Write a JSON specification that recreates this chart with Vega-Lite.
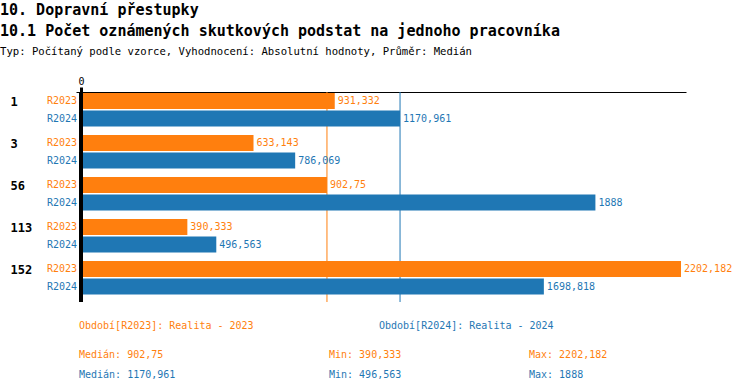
{
  "$schema": "https://vega.github.io/schema/vega-lite/v6.json",
  "padding": {"left": 0, "top": 3, "right": 5, "bottom": 5},
  "title": {
    "text": ["10. Dopravní přestupky", "10.1 Počet oznámených skutkových podstat na jednoho pracovníka"],
    "subtitle": "Typ: Počítaný podle vzorce, Vyhodnocení: Absolutní hodnoty, Průměr: Medián",
    "anchor": "start",
    "dx": -10,
    "fontSize": 15,
    "fontWeight": "bold",
    "lineHeight": 21,
    "subtitleFontSize": 10.6,
    "subtitlePadding": 8,
    "offset": 18,
    "color": "black",
    "subtitleColor": "black"
  },
  "datasets": {
    "bars": [
      {"group": "1", "series": "R2023", "value": 931.332},
      {"group": "1", "series": "R2024", "value": 1170.961},
      {"group": "3", "series": "R2023", "value": 633.143},
      {"group": "3", "series": "R2024", "value": 786.069},
      {"group": "56", "series": "R2023", "value": 902.75},
      {"group": "56", "series": "R2024", "value": 1888},
      {"group": "113", "series": "R2023", "value": 390.333},
      {"group": "113", "series": "R2024", "value": 496.563},
      {"group": "152", "series": "R2023", "value": 2202.182},
      {"group": "152", "series": "R2024", "value": 1698.818}
    ],
    "footer": [
      {"col": "c1", "block": "legend", "line": "1", "series": "R2023", "label": "Období[R2023]: Realita - 2023"},
      {"col": "c3", "block": "legend", "line": "1", "series": "R2024", "label": "Období[R2024]: Realita - 2024"},
      {"col": "c1", "block": "stats", "line": "1", "series": "R2023", "label": "Medián: 902,75"},
      {"col": "c2", "block": "stats", "line": "1", "series": "R2023", "label": "Min: 390,333"},
      {"col": "c4", "block": "stats", "line": "1", "series": "R2023", "label": "Max: 2202,182"},
      {"col": "c1", "block": "stats", "line": "2", "series": "R2024", "label": "Medián: 1170,961"},
      {"col": "c2", "block": "stats", "line": "2", "series": "R2024", "label": "Min: 496,563"},
      {"col": "c4", "block": "stats", "line": "2", "series": "R2024", "label": "Max: 1888"}
    ]
  },
  "spacing": 0,
  "resolve": {"scale": {"x": "independent", "y": "independent", "yOffset": "independent", "color": "shared"}},
  "vconcat": [
    {
      "width": 610,
      "height": 210,
      "data": {"name": "bars"},
      "encoding": {
        "y": {
          "field": "group", "type": "nominal",
          "sort": ["1", "3", "56", "113", "152"],
          "scale": {"paddingInner": 0, "paddingOuter": 0},
          "axis": {
            "title": null, "domain": false, "ticks": false, "tickSize": 0,
            "labelAlign": "left", "labelPadding": 66, "labelFontWeight": "bold",
            "labelFontSize": 12, "labelColor": "black", "labelOffset": -11.5,
            "labelBaseline": "middle"
          }
        },
        "yOffset": {
          "field": "series", "type": "nominal",
          "scale": {"paddingInner": 0.086, "paddingOuter": 0.243, "align": 0.12}
        }
      },
      "layer": [
        {
          "mark": {"type": "rule", "strokeWidth": 1},
          "encoding": {
            "y": null,
            "yOffset": null,
            "x": {"aggregate": "median", "field": "value", "type": "quantitative"},
            "color": {"field": "series", "type": "nominal", "legend": null,
              "scale": {"domain": ["R2023", "R2024"], "range": ["#ff7f0e", "#1f77b4"]}}
          }
        },
        {
          "mark": {"type": "bar"},
          "encoding": {
            "x": {
              "field": "value", "type": "quantitative",
              "scale": {"domain": [-18.35, 2220.5], "nice": false, "zero": false},
              "axis": {
                "orient": "top", "values": [0], "title": null, "grid": false,
                "domainColor": "black", "tickColor": "black", "tickWidth": 3,
                "tickSize": 5, "labelFontSize": 10, "labelPadding": 1,
                "labelColor": "black", "labelFlush": false
              }
            },
            "color": {"field": "series", "type": "nominal", "legend": null}
          }
        },
        {
          "mark": {"type": "text", "align": "left", "baseline": "middle", "dx": 3, "fontSize": 10},
          "encoding": {
            "x": {"field": "value", "type": "quantitative"},
            "text": {"field": "value", "type": "quantitative", "format": "~f"},
            "color": {"field": "series", "type": "nominal", "legend": null}
          }
        },
        {
          "mark": {"type": "text", "align": "right", "baseline": "middle", "dx": -4, "fontSize": 10},
          "encoding": {
            "x": {"datum": 0},
            "text": {"field": "series", "type": "nominal"},
            "color": {"field": "series", "type": "nominal", "legend": null}
          }
        },
        {
          "mark": {"type": "rule", "strokeWidth": 3, "color": "black"},
          "encoding": {
            "y": null,
            "yOffset": null,
            "x": {"datum": 0}
          }
        }
      ]
    },
    {
      "width": 610,
      "height": 80,
      "data": {"name": "footer"},
      "encoding": {
        "y": {"field": "block", "type": "nominal", "axis": null,
          "scale": {"type": "point", "padding": 0, "domain": ["legend", "stats"], "range": [22, 51]}},
        "yOffset": {"field": "line", "type": "nominal",
          "scale": {"type": "point", "padding": 0, "domain": ["1", "2"], "range": [0, 20]}},
        "text": {"field": "label", "type": "nominal"},
        "color": {"field": "series", "type": "nominal", "legend": null}
      },
      "layer": [
        {
          "transform": [{"filter": {"field": "col", "equal": "c1"}}],
          "mark": {"type": "text", "align": "left", "baseline": "middle", "fontSize": 10},
          "encoding": {"x": {"value": 3}}
        },
        {
          "transform": [{"filter": {"field": "col", "equal": "c2"}}],
          "mark": {"type": "text", "align": "left", "baseline": "middle", "fontSize": 10},
          "encoding": {"x": {"value": 253}}
        },
        {
          "transform": [{"filter": {"field": "col", "equal": "c3"}}],
          "mark": {"type": "text", "align": "left", "baseline": "middle", "fontSize": 10},
          "encoding": {"x": {"value": 303}}
        },
        {
          "transform": [{"filter": {"field": "col", "equal": "c4"}}],
          "mark": {"type": "text", "align": "left", "baseline": "middle", "fontSize": 10},
          "encoding": {"x": {"value": 453}}
        }
      ]
    }
  ],
  "config": {
    "font": "DejaVu Sans Mono",
    "view": {"stroke": null},
    "locale": {"number": {"decimal": ",", "thousands": "", "grouping": [3], "currency": ["", ""]}}
  }
}
